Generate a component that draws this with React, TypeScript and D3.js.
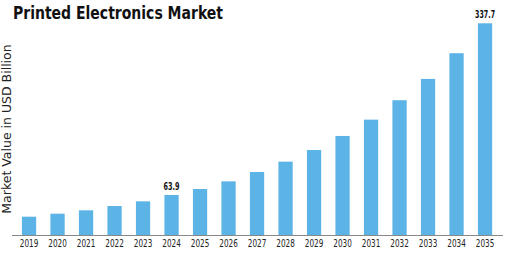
import { useEffect, useRef } from "react";
import * as d3 from "d3";

const years = [
  "2019", "2020", "2021", "2022", "2023", "2024", "2025", "2026", "2027",
  "2028", "2029", "2030", "2031", "2032", "2033", "2034", "2035",
];
const values = [
  29.2, 34.0, 39.4, 46.2, 53.7, 63.9, 73.4, 85.6, 100.5,
  117.0, 135.6, 158.0, 184.0, 215.0, 249.0, 290.0, 337.7,
];
const labelledYears = ["2024", "2035"];

const W = 505;
const H = 253;

export default function App() {
  const svgRef = useRef<SVGSVGElement>(null);

  useEffect(() => {
    if (!svgRef.current) return;
    const svg = d3.select(svgRef.current);
    svg.selectAll("*").remove();

    const baseline = 235;

    const x = d3
      .scaleBand()
      .domain(years)
      .range([14.8, 499.3])
      .paddingInner(0.5)
      .paddingOuter(0.25);

    const y = d3.scaleLinear().domain([0, 337.7]).range([baseline, 23.3]);

    const data = years.map((name, i) => ({ name, value: values[i] }));

    // title (condensed look)
    svg
      .append("text")
      .attr("x", 13)
      .attr("y", 19)
      .attr("font-family", "'DejaVu Sans'")
      .attr("font-weight", "bold")
      .attr("font-size", 17.5)
      .attr("textLength", 210)
      .attr("lengthAdjust", "spacingAndGlyphs")
      .attr("fill", "#111")
      .text("Printed Electronics Market");

    // y axis title
    svg
      .append("text")
      .attr("transform", `translate(11,${129}) rotate(-90)`)
      .attr("text-anchor", "middle")
      .attr("font-family", "'DejaVu Sans'")
      .attr("font-size", 12.5)
      .attr("fill", "#222")
      .text("Market Value in USD Billion");

    // bars
    svg
      .selectAll(".bar")
      .data(data)
      .enter()
      .append("rect")
      .attr("class", "bar")
      .attr("x", (d) => x(d.name) || 0)
      .attr("y", (d) => y(d.value))
      .attr("width", x.bandwidth())
      .attr("height", (d) => baseline - y(d.value))
      .attr("fill", "#5cb3e6");

    // value labels
    svg
      .selectAll(".val")
      .data(data.filter((d) => labelledYears.includes(d.name)))
      .enter()
      .append("text")
      .attr("class", "val")
      .attr("x", (d) => (x(d.name) || 0) + x.bandwidth() / 2)
      .attr("y", (d) => y(d.value) - 5)
      .attr("text-anchor", "middle")
      .attr("font-family", "'DejaVu Sans'")
      .attr("font-weight", "bold")
      .attr("font-size", 10)
      .attr("textLength", (d) => d.value.toFixed(1).length * 4)
      .attr("lengthAdjust", "spacingAndGlyphs")
      .attr("fill", "#111")
      .text((d) => d.value.toFixed(1));

    // x axis line
    svg
      .append("line")
      .attr("x1", 12)
      .attr("x2", 503)
      .attr("y1", baseline + 0.5)
      .attr("y2", baseline + 0.5)
      .attr("stroke", "#888")
      .attr("stroke-width", 1);

    // tick labels
    svg
      .selectAll(".tick-label")
      .data(years)
      .enter()
      .append("text")
      .attr("class", "tick-label")
      .attr("x", (d) => (x(d) || 0) + x.bandwidth() / 2)
      .attr("y", 247)
      .attr("text-anchor", "middle")
      .attr("font-family", "'DejaVu Sans'")
      .attr("font-size", 10.5)
      .attr("textLength", 18.5)
      .attr("lengthAdjust", "spacingAndGlyphs")
      .attr("fill", "#222")
      .text((d) => d);
  }, []);

  return (
    <svg
      ref={svgRef}
      width={W}
      height={H}
      viewBox={`0 0 ${W} ${H}`}
      style={{ position: "absolute", left: 0, top: 0, background: "#fff" }}
    />
  );
}
